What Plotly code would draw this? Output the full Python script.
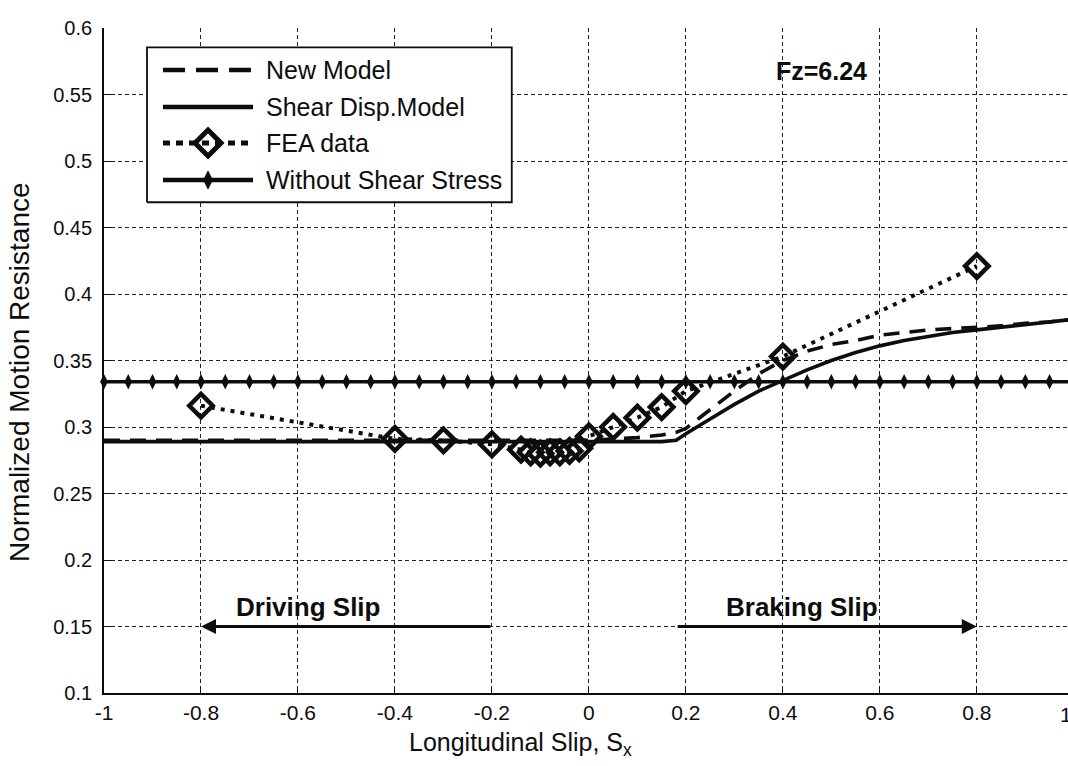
import plotly.graph_objects as go

# ---- data ---------------------------------------------------------------
x_model = [-1.0, -0.8, -0.6, -0.4, -0.2, 0.0, 0.05, 0.1, 0.15, 0.18, 0.2, 0.25, 0.3,
           0.35, 0.4, 0.45, 0.5, 0.55, 0.6, 0.65, 0.7, 0.75, 0.8, 0.85, 0.9, 0.95, 1.0]

new_model = [0.290, 0.290, 0.290, 0.290, 0.290, 0.290, 0.291, 0.292, 0.294, 0.296, 0.299,
             0.313, 0.327, 0.340, 0.350, 0.357, 0.362, 0.365, 0.369, 0.371, 0.373,
             0.374, 0.375, 0.376, 0.378, 0.379, 0.381]

shear_disp = [0.289, 0.289, 0.289, 0.289, 0.289, 0.289, 0.289, 0.289, 0.289, 0.290, 0.295,
              0.306, 0.317, 0.327, 0.335, 0.343, 0.350, 0.356, 0.361, 0.365, 0.368,
              0.371, 0.373, 0.375, 0.377, 0.379, 0.381]

fea_x = [-0.8, -0.4, -0.3, -0.2, -0.14, -0.12, -0.1, -0.08, -0.06, -0.04, -0.02,
         0.0, 0.05, 0.1, 0.15, 0.2, 0.4, 0.8]
fea_y = [0.316, 0.291, 0.290, 0.287, 0.283, 0.281, 0.280, 0.281, 0.281, 0.282, 0.284,
         0.293, 0.300, 0.307, 0.315, 0.327, 0.353, 0.421]

no_shear_x = [-1.0, -0.95, -0.9, -0.85, -0.8, -0.75, -0.7, -0.65, -0.6, -0.55, -0.5,
              -0.45, -0.4, -0.35, -0.3, -0.25, -0.2, -0.15, -0.1, -0.05, 0.0,
              0.05, 0.1, 0.15, 0.2, 0.25, 0.3, 0.35, 0.4, 0.45, 0.5,
              0.55, 0.6, 0.65, 0.7, 0.75, 0.8, 0.85, 0.9, 0.95, 1.0]
no_shear_y = [0.334, 0.334, 0.334, 0.334, 0.334, 0.334, 0.334, 0.334, 0.334, 0.334, 0.334,
              0.334, 0.334, 0.334, 0.334, 0.334, 0.334, 0.334, 0.334, 0.334, 0.334,
              0.334, 0.334, 0.334, 0.334, 0.334, 0.334, 0.334, 0.334, 0.334, 0.334,
              0.334, 0.334, 0.334, 0.334, 0.334, 0.334, 0.334, 0.334, 0.334, 0.334]

# slip-region arrows (start, tip) on the 0.15 level
driving_arrow_x = [-0.2, -0.8]
braking_arrow_x = [0.18, 0.8]
arrow_level = 0.15

x_ticks = [-1, -0.8, -0.6, -0.4, -0.2, 0, 0.2, 0.4, 0.6, 0.8]
x_tick_text = ["-1", "-0.8", "-0.6", "-0.4", "-0.2", "0", "0.2", "0.4", "0.6", "0.8"]
y_ticks = [0.1, 0.15, 0.2, 0.25, 0.3, 0.35, 0.4, 0.45, 0.5, 0.55, 0.6]
y_tick_text = ["0.1", "0.15", "0.2", "0.25", "0.3", "0.35", "0.4", "0.45", "0.5", "0.55", "0.6"]

series_names = ["New Model", "Shear Disp.Model", "FEA data", "Without Shear Stress"]

# ---- styles -------------------------------------------------------------
INK = "#0d0d0d"
SANS = "Liberation Sans, Arial, sans-serif"
NARROW = "Liberation Sans Narrow, Arial Narrow, Liberation Sans, sans-serif"
LW = 3.6

fig = go.Figure()

fig.add_trace(go.Scatter(
    x=no_shear_x, y=no_shear_y, mode="lines+markers", cliponaxis=False,
    line=dict(color=INK, width=LW),
    marker=dict(symbol="diamond-tall", size=11, color=INK),
    showlegend=False))

fig.add_trace(go.Scatter(
    x=x_model, y=shear_disp, mode="lines",
    line=dict(color=INK, width=LW), showlegend=False))

fig.add_trace(go.Scatter(
    x=x_model, y=new_model, mode="lines",
    line=dict(color=INK, width=LW, dash="16px,10px"), showlegend=False))

fig.add_trace(go.Scatter(
    x=fea_x, y=fea_y, mode="lines+markers", cliponaxis=False,
    line=dict(color=INK, width=4, dash="4px,6px"),
    marker=dict(symbol="diamond-open", size=18, color=INK, line=dict(width=4.5, color=INK)),
    showlegend=False))

# ---- hand-built legend on an overlay axis in plot-fraction units --------
box_l, box_r, box_b, box_t = 0.0446, 0.423, 0.738, 0.971
rows = [0.9368, 0.8812, 0.8271, 0.7714]
s0, s1 = 0.0612, 0.1546
sc = (s0 + s1) / 2
text_x = 0.166

fig.add_trace(go.Scatter(
    x=[box_l, box_r, box_r, box_l, box_l], y=[box_b, box_b, box_t, box_t, box_b],
    xaxis="x2", yaxis="y2", mode="lines", fill="toself", fillcolor="white",
    line=dict(color=INK, width=1.8), showlegend=False, hoverinfo="skip"))

sample_styles = [
    dict(color=INK, width=4.5, dash="22px,11px"),
    dict(color=INK, width=4.5),
    dict(color=INK, width=5, dash="7px,6px"),
    dict(color=INK, width=4.5),
]
for row, style in zip(rows, sample_styles):
    fig.add_trace(go.Scatter(
        x=[s0, s1], y=[row, row], xaxis="x2", yaxis="y2", mode="lines",
        line=style, showlegend=False, hoverinfo="skip"))

fig.add_trace(go.Scatter(
    x=[sc], y=[rows[2]], xaxis="x2", yaxis="y2", mode="markers",
    marker=dict(symbol="diamond-open", size=20, color=INK, line=dict(width=5, color=INK)),
    showlegend=False, hoverinfo="skip"))
fig.add_trace(go.Scatter(
    x=[sc], y=[rows[3]], xaxis="x2", yaxis="y2", mode="markers",
    marker=dict(symbol="diamond-tall", size=14, color=INK),
    showlegend=False, hoverinfo="skip"))

annotations = []
for row, name in zip(rows, series_names):
    annotations.append(dict(
        x=text_x, y=row, xref="paper", yref="paper", text=name, showarrow=False,
        xanchor="left", yanchor="middle", font=dict(family=SANS, size=25, color=INK)))

# slip-region arrows
for start, tip in (driving_arrow_x, braking_arrow_x):
    annotations.append(dict(
        x=tip, y=arrow_level, ax=start, ay=arrow_level,
        xref="x", yref="y", axref="x", ayref="y", text="",
        showarrow=True, arrowhead=2, arrowsize=1, arrowwidth=3, arrowcolor=INK,
        standoff=0))

# ---- text annotations ---------------------------------------------------
annotations += [
    dict(x=0.48, y=0.568, xref="x", yref="y", text="Fz=6.24", showarrow=False,
         font=dict(family=SANS, size=25, color=INK, weight="bold")),
    dict(x=-0.58, y=0.1645, xref="x", yref="y", text="Driving Slip", showarrow=False,
         font=dict(family=NARROW, size=26, color=INK, weight="bold")),
    dict(x=0.44, y=0.1645, xref="x", yref="y", text="Braking Slip", showarrow=False,
         font=dict(family=NARROW, size=26, color=INK, weight="bold")),
    # axis titles
    dict(x=0.432, y=-0.104, xref="paper", yref="paper",
         text="Longitudinal Slip, S<sub>x</sub>", showarrow=False,
         yanchor="bottom", font=dict(family=NARROW, size=25, color=INK)),
    dict(x=-0.106, y=0.483, xref="paper", yref="paper", textangle=-90,
         text="Normalized Motion Resistance", showarrow=False,
         font=dict(family=NARROW, size=28, color=INK)),
    # last tick label sits at the very edge of the page
    dict(x=1.0062, y=-0.012, xref="paper", yref="paper", text="1", showarrow=False,
         yanchor="top", font=dict(family=NARROW, size=21, color=INK)),
]

grid = dict(showgrid=True, gridcolor="#222222", gridwidth=1.2, griddash="4px,3px",
            zeroline=False)

fig.update_layout(
    width=1068, height=766,
    margin=dict(l=104, r=0, t=28, b=73),
    paper_bgcolor="white", plot_bgcolor="white",
    showlegend=False,
    xaxis=dict(range=[-1, 0.988], tickvals=x_ticks, ticktext=x_tick_text,
               ticks="inside", ticklen=7, tickwidth=1.2, tickcolor=INK,
               showline=True, linecolor=INK, linewidth=1.8,
               tickfont=dict(family=NARROW, size=21, color=INK), **grid),
    yaxis=dict(range=[0.1, 0.6], tickvals=y_ticks, ticktext=y_tick_text,
               ticks="inside", ticklen=7, tickwidth=1.2, tickcolor=INK,
               showline=True, linecolor=INK, linewidth=1.8, ticklabelstandoff=6,
               tickfont=dict(family=SANS, size=20, color=INK), **grid),
    xaxis2=dict(overlaying="x", anchor="y2", range=[0, 1], visible=False),
    yaxis2=dict(overlaying="y", anchor="x2", range=[0, 1], visible=False),
    annotations=annotations,
)

fig.write_html("out.html")
